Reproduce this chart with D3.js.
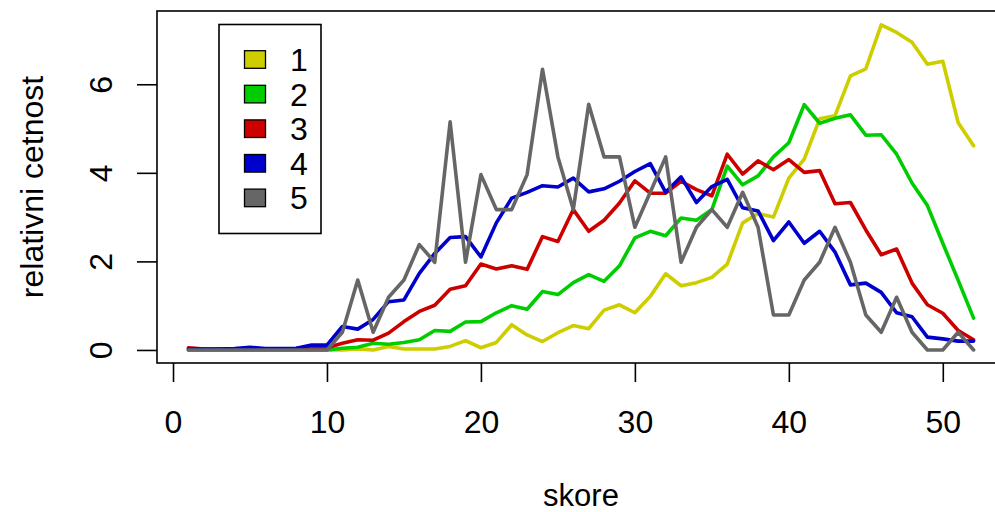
<!DOCTYPE html>
<html>
<head>
<meta charset="utf-8">
<script src="https://cdn.jsdelivr.net/npm/d3@7"></script>
<style>
  html, body { margin: 0; padding: 0; background: #fff; }
  svg { display: block; }
  text { font-family: "Liberation Sans", Arial, sans-serif; fill: #000; }
</style>
</head>
<body>
<svg id="chart" width="995" height="512"></svg>
<script>
const scores = d3.range(1, 53);
const seriesNames = ["1", "2", "3", "4", "5"];
const seriesColors = ["#CDCD00", "#00CD00", "#CD0000", "#0000CD", "#666666"];
const xTicks = [0, 10, 20, 30, 40, 50];
const yTicks = [0, 2, 4, 6];
const xLabel = "skore";
const yLabel = "relativni cetnost";

const s1 = [0,0,0,0,0,0,0,0,0,0,
  0,0.02,0,0.08,0.02,0.02,0.02,0.08,0.21,0.05,
  0.17,0.57,0.34,0.19,0.39,0.55,0.48,0.90,1.02,0.84,
  1.21,1.72,1.45,1.52,1.64,1.94,2.87,3.08,3.00,3.88,
  4.31,5.22,5.29,6.19,6.35,7.34,7.17,6.95,6.45,6.52,
  5.13,4.61];
const s2 = [0,0,0,0,0,0,0,0,0,0,
  0.04,0.06,0.15,0.13,0.17,0.23,0.44,0.42,0.63,0.64,
  0.84,1.00,0.92,1.32,1.25,1.52,1.70,1.55,1.90,2.53,
  2.68,2.58,2.98,2.93,3.17,4.15,3.73,3.93,4.36,4.68,
  5.54,5.12,5.23,5.31,4.85,4.86,4.42,3.77,3.26,2.41,
  1.57,0.72];
const s3 = [0.05,0.02,0.02,0.02,0.02,0.02,0.02,0.03,0.05,0.05,
  0.15,0.23,0.22,0.38,0.64,0.87,1.01,1.37,1.45,1.94,
  1.83,1.90,1.82,2.56,2.45,3.17,2.68,2.93,3.32,3.82,
  3.54,3.54,3.81,3.62,3.48,4.42,3.97,4.27,4.07,4.30,
  4.01,4.05,3.30,3.33,2.71,2.15,2.28,1.51,1.02,0.83,
  0.44,0.23];
const s4 = [0.02,0.02,0.02,0.03,0.06,0.03,0.03,0.04,0.11,0.11,
  0.53,0.47,0.69,1.09,1.13,1.73,2.18,2.54,2.56,2.10,
  2.87,3.43,3.56,3.71,3.68,3.88,3.57,3.64,3.81,4.03,
  4.21,3.56,3.91,3.33,3.69,3.85,3.21,3.14,2.47,2.89,
  2.41,2.68,2.21,1.47,1.51,1.30,0.84,0.75,0.29,0.25,
  0.20,0.20];
const s5 = [0,0,0,0,0,0,0,0,0,0,
  0.40,1.58,0.40,1.19,1.58,2.38,1.98,5.15,1.98,3.96,
  3.17,3.17,3.96,6.34,4.36,3.17,5.55,4.36,4.36,2.77,
  3.56,4.36,1.98,2.77,3.17,2.77,3.56,2.77,0.79,0.79,
  1.58,1.98,2.77,1.98,0.79,0.40,1.19,0.40,0,0,
  0.40,0];
const allSeries = [s1, s2, s3, s4, s5];

(function () {
const svg = d3.select("#chart");
const pLeft = 157, pRight = 1005, pTop = 11, pBottom = 363;

const x = d3.scaleLinear().domain([-1.04, 54.04]).range([pLeft, pRight]);
const y = d3.scaleLinear().domain([-0.2945, 7.6545]).range([pBottom, pTop]);

// lines
const line = d3.line().x((d, i) => x(scores[i])).y(d => y(d));
allSeries.forEach((s, k) => {
  svg.append("path")
    .datum(s)
    .attr("d", line)
    .attr("fill", "none")
    .attr("stroke", seriesColors[k])
    .attr("stroke-width", 3.6)
    .attr("stroke-linejoin", "round")
    .attr("stroke-linecap", "round");
});

// box
svg.append("rect")
  .attr("x", pLeft).attr("y", pTop)
  .attr("width", pRight - pLeft).attr("height", pBottom - pTop)
  .attr("fill", "none").attr("stroke", "#000").attr("stroke-width", 1.6);

// x axis
const xAxis = d3.axisBottom(x).tickValues(xTicks).tickSize(19).tickSizeOuter(0).tickPadding(0);
const gx = svg.append("g").attr("transform", `translate(0,${pBottom})`).call(xAxis);
gx.select(".domain").remove();
gx.selectAll(".tick line").attr("stroke", "#000").attr("stroke-width", 1.6);
gx.selectAll(".tick text")
  .attr("y", 70).attr("dy", null)
  .style("font-size", "32px").style("font-family", "'Liberation Sans', Arial, sans-serif")
  .attr("fill", "#000");

// y axis
const yAxis = d3.axisLeft(y).tickValues(yTicks).tickSize(20).tickSizeOuter(0).tickPadding(0);
const gy = svg.append("g").attr("transform", `translate(${pLeft},0)`).call(yAxis);
gy.select(".domain").remove();
gy.selectAll(".tick line").attr("stroke", "#000").attr("stroke-width", 1.6);
gy.selectAll(".tick text")
  .attr("x", null).attr("dy", null)
  .attr("text-anchor", "middle")
  .attr("transform", "translate(-45,0) rotate(-90)")
  .attr("y", 0)
  .style("font-size", "32px").style("font-family", "'Liberation Sans', Arial, sans-serif")
  .attr("fill", "#000");

// axis titles
svg.append("text")
  .attr("x", (pLeft + pRight) / 2).attr("y", 506)
  .attr("text-anchor", "middle")
  .style("font-size", "31px")
  .text(xLabel);
svg.append("text")
  .attr("transform", `translate(43,${(pTop + pBottom) / 2}) rotate(-90)`)
  .attr("text-anchor", "middle")
  .style("font-size", "32px")
  .text(yLabel);

// legend
const lg = svg.append("g");
lg.append("rect")
  .attr("x", 219).attr("y", 24.5).attr("width", 102).attr("height", 209)
  .attr("fill", "#fff").attr("stroke", "#000").attr("stroke-width", 1.6);
seriesNames.forEach((name, k) => {
  const cy = 59.5 + k * 34.6;
  lg.append("rect")
    .attr("x", 244.5).attr("y", cy - 8.8).attr("width", 21).attr("height", 17.6)
    .attr("fill", seriesColors[k]).attr("stroke", "#000").attr("stroke-width", 1.3);
  lg.append("text")
    .attr("x", 290).attr("y", cy + 11.5)
    .style("font-size", "32px")
    .text(name);
});
})();
</script>
</body>
</html>
